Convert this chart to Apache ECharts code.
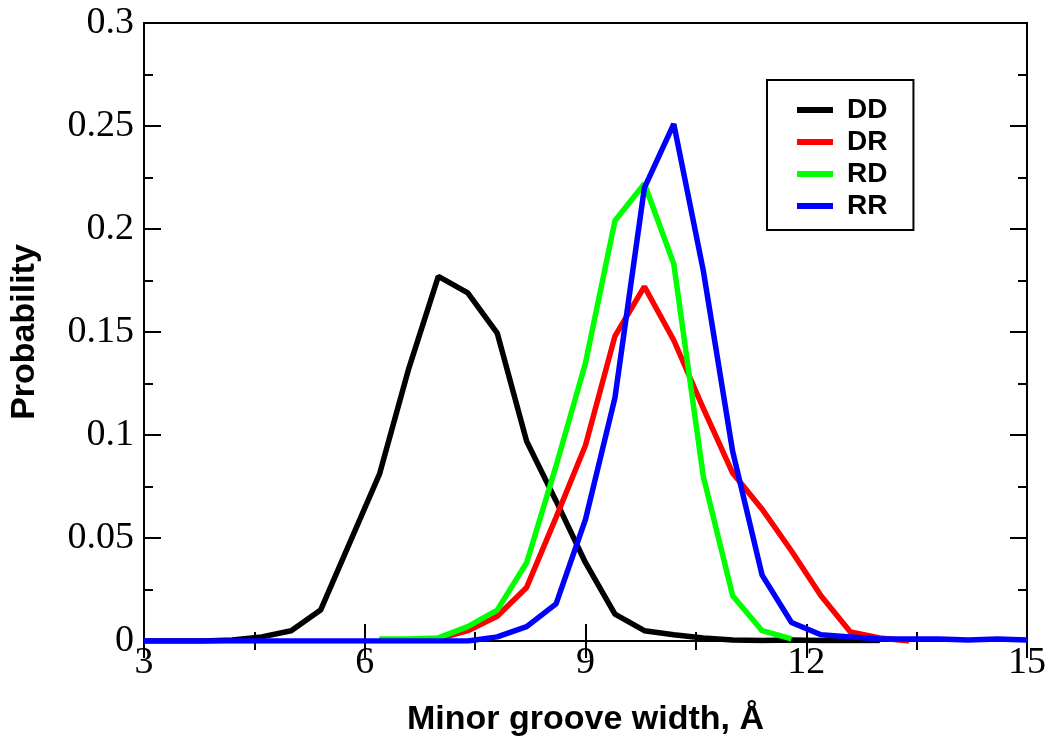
<!DOCTYPE html>
<html>
<head>
<meta charset="utf-8">
<script src="https://cdn.jsdelivr.net/npm/echarts@6/dist/echarts.min.js"></script>
<style>html,body{margin:0;padding:0;background:#fff}#c{width:1050px;height:745px}</style>
</head>
<body>
<div id="c"></div>
<script>
// Minor groove width (Å), sampled every 0.4 Å from 3 to 15
const widths = [3.0,3.4,3.8,4.2,4.6,5.0,5.4,5.8,6.2,6.6,7.0,7.4,7.8,8.2,8.6,9.0,9.4,9.8,10.2,10.6,11.0,11.4,11.8,12.2,12.6,13.0,13.4,13.8,14.2,14.6,15.0];
const seriesNames = ['DD','DR','RD','RR'];
const DD = [0,0,0,0.0005,0.002,0.005,0.015,0.048,0.081,0.1325,0.177,0.169,0.1495,0.097,0.068,0.038,0.013,0.005,0.003,0.0015,0.0005,0.0003,0.0005,0.0003,0.0002,0.0002,null,null,null,null,null];
const DR = [null,null,null,null,null,null,null,null,0.0005,0.0005,0.001,0.005,0.012,0.026,0.06,0.095,0.148,0.172,0.146,0.113,0.0815,0.064,0.0437,0.022,0.0044,0.0015,0,null,null,null,null];
const RD = [null,null,null,null,null,null,null,null,0.001,0.001,0.0015,0.007,0.015,0.038,0.085,0.135,0.204,0.222,0.183,0.08,0.022,0.005,0.001,null,null,null,null,null,null,null,null];
const RR = [0,0,0,0,0,0,0,0,0,0,0,0,0.002,0.007,0.018,0.059,0.118,0.22,0.251,0.18,0.092,0.032,0.009,0.003,0.002,0.001,0.001,0.001,0.0005,0.001,0.0005];
const colors = ['#000000','#ff0000','#00ff00','#0000ff'];
const xTicks = [3,6,9,12,15];
const yTicks = [0,0.05,0.1,0.15,0.2,0.25,0.3];

const allY = [DD, DR, RD, RR];
const series = seriesNames.map((n, i) => ({
  name: n, type: 'line', showSymbol: false, symbol: 'none',
  lineStyle: {width: 5.5, color: colors[i]}, itemStyle: {color: colors[i]},
  data: widths.map((x, j) => allY[i][j] == null ? null : [x, allY[i][j]]).filter(p => p),
  z: 2 + i
}));

const serif = 'Liberation Serif';
const sans = 'Liberation Sans';
const tickCommon = {show: true, inside: true, length: 17, lineStyle: {color: '#000', width: 2}};
const minorCommon = {show: true, splitNumber: 2, length: 9, lineStyle: {color: '#000', width: 2}};

const chart = echarts.init(document.getElementById('c'), null, {renderer: 'canvas'});
chart.setOption({
  animation: false,
  backgroundColor: '#fff',
  grid: {left: 142, right: 23, top: 23, bottom: 104, show: true, borderColor: '#000', borderWidth: 2, backgroundColor: 'transparent'},
  legend: {
    data: seriesNames, orient: 'vertical', left: 767, top: 80,
    icon: 'rect', itemWidth: 36, itemHeight: 6, itemGap: 4,
    padding: [16, 26, 10, 30],
    borderColor: '#000', borderWidth: 2,
    textStyle: {fontFamily: sans, fontWeight: 'bold', fontSize: 28, color: '#000', padding: [0, 0, 0, 9]}
  },
  xAxis: [{
    type: 'value', min: 3, max: 15, interval: 3, position: 'bottom',
    name: 'Minor groove width, Å', nameLocation: 'middle', nameGap: 62,
    nameTextStyle: {fontFamily: sans, fontWeight: 'bold', fontSize: 34, color: '#000'},
    axisLine: {show: true, lineStyle: {color: '#000', width: 2}},
    axisTick: tickCommon, minorTick: minorCommon,
    axisLabel: {fontFamily: serif, fontSize: 38, color: '#000', margin: 3},
    splitLine: {show: false}
  }, {
    type: 'value', min: 3, max: 15, interval: 3, position: 'top',
    axisLine: {show: true, lineStyle: {color: '#000', width: 2}},
    axisTick: tickCommon, minorTick: minorCommon,
    axisLabel: {show: false}, splitLine: {show: false}
  }],
  yAxis: [{
    type: 'value', min: 0, max: 0.3, interval: 0.05, position: 'left',
    name: 'Probability', nameLocation: 'middle', nameGap: 102,
    nameTextStyle: {fontFamily: sans, fontWeight: 'bold', fontSize: 34, color: '#000'},
    axisLine: {show: true, lineStyle: {color: '#000', width: 2}},
    axisTick: tickCommon, minorTick: minorCommon,
    axisLabel: {fontFamily: serif, fontSize: 38, color: '#000', margin: 10,
      formatter: v => String(+v.toFixed(2))},
    splitLine: {show: false}
  }, {
    type: 'value', min: 0, max: 0.3, interval: 0.05, position: 'right',
    axisLine: {show: true, lineStyle: {color: '#000', width: 2}},
    axisTick: tickCommon, minorTick: minorCommon,
    axisLabel: {show: false}, splitLine: {show: false}
  }],
  series: series
});
</script>
</body>
</html>
